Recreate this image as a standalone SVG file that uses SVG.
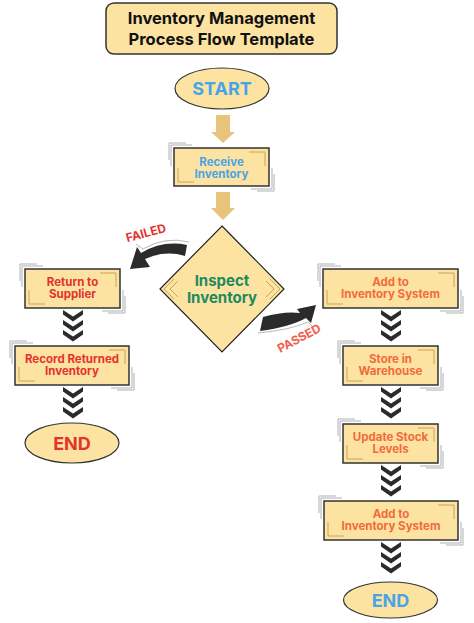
<svg xmlns="http://www.w3.org/2000/svg" width="474" height="623" viewBox="0 0 474 623">
<style>
text{font-family:Inter,"Liberation Sans",Arial,sans-serif;font-weight:700;text-anchor:middle}
.box{fill:#fce3a2;stroke:#333;stroke-width:1.5}
.ell{fill:#fce3a2;stroke:#333;stroke-width:1.2}
.dia{fill:#fce3a2;stroke:#222;stroke-width:1.2}
.gray{fill:none;stroke:#b0b0b0;stroke-width:1}
.tan{fill:none;stroke:#c8a458;stroke-width:1}
.t12{font-size:11.5px}
.blue{fill:#4aa3e6}
.red{fill:#e5322d}
.orange{fill:#f26b3a}
.salmon{fill:#f2604f}
.green{fill:#1d8a60}
.tanarrow{fill:#e7c37c}
.black{fill:#2b2b2b}
.shadow{fill:none;stroke:#b8b8b8;stroke-width:1}
</style>
<defs>
<path id="chev1" d="M-10,0 L0,6.5 L10,0 L10,4.5 L0,11.5 L-10,4.5 Z"/>
<g id="chev3">
<use href="#chev1" y="0"/>
<use href="#chev1" y="10"/>
<use href="#chev1" y="20"/>
</g>
</defs>

<g id="title">
<rect x="106" y="3" width="231" height="51" rx="8" class="box"/>
<text x="221.5" y="24" font-size="16.5" fill="#111">Inventory Management</text>
<text x="221.5" y="44.5" font-size="16.5" fill="#111">Process Flow Template</text>
</g>

<g id="start">
<ellipse cx="222" cy="88.5" rx="47" ry="20.5" class="ell"/>
<text x="222" y="94.5" font-size="18" class="blue">START</text>
</g>

<g id="receive">
<path class="gray" d="M171,166 V145 H192 M169,160 V143 H186"/>
<path class="gray" d="M272,168 V189 H251 M274,174 V191 H257"/>
<rect x="174" y="148" width="95" height="38" class="box"/>
<path class="tan" d="M249,152 H265 V166 M178,168 V182 H194"/>
<text x="221.5" y="165.5" class="t12 blue">Receive</text>
<text x="221.5" y="178" class="t12 blue">Inventory</text>
</g>

<g id="inspect">
<polygon points="222,226 284,289 222,352 160,289" class="dia"/>
<path class="tan" d="M174,279 L164,289 L174,299 M178,281 L170,289 L178,297"/>
<path class="tan" d="M270,279 L280,289 L270,299 M266,281 L274,289 L266,297"/>
<text x="222" y="285.5" font-size="15" class="green">Inspect</text>
<text x="222" y="303" font-size="15" class="green">Inventory</text>
</g>

<g id="return">
<path class="gray" d="M22,287 V266 H43 M20,281 V264 H37"/>
<path class="gray" d="M123,290 V311 H102 M125,296 V313 H108"/>
<rect x="25" y="269" width="95" height="39" class="box"/>
<path class="tan" d="M100,273 H116 V287 M29,290 V304 H45"/>
<text x="72.5" y="285.5" class="t12 red">Return to</text>
<text x="72.5" y="298" class="t12 red">Supplier</text>
</g>

<g id="record">
<path class="gray" d="M12,364 V343 H33 M10,358 V341 H27"/>
<path class="gray" d="M132,367 V388 H111 M134,373 V390 H117"/>
<rect x="15" y="346" width="114" height="39" class="box"/>
<path class="tan" d="M109,350 H125 V364 M19,367 V381 H35"/>
<text x="72" y="362.5" class="t12 red">Record Returned</text>
<text x="72" y="375" class="t12 red">Inventory</text>
</g>

<g id="end-left">
<ellipse cx="72" cy="443" rx="47" ry="20" class="ell"/>
<text x="72" y="449.5" font-size="18" class="red">END</text>
</g>

<g id="add1">
<path class="gray" d="M320,287 V266 H341 M318,281 V264 H335"/>
<path class="gray" d="M461,290 V311 H440 M463,296 V313 H446"/>
<rect x="323" y="269" width="135" height="39" class="box"/>
<path class="tan" d="M438,273 H454 V287 M327,290 V304 H343"/>
<text x="390.5" y="285.5" class="t12 orange">Add to</text>
<text x="390.5" y="298" class="t12 orange">Inventory System</text>
</g>

<g id="store">
<path class="gray" d="M340,364 V343 H361 M338,358 V341 H355"/>
<path class="gray" d="M441,367 V388 H420 M443,373 V390 H426"/>
<rect x="343" y="346" width="95" height="39" class="box"/>
<path class="tan" d="M418,350 H434 V364 M347,367 V381 H363"/>
<text x="390.5" y="362.5" class="t12 orange">Store in</text>
<text x="390.5" y="375" class="t12 orange">Warehouse</text>
</g>

<g id="update">
<path class="gray" d="M340,442 V421 H361 M338,436 V419 H355"/>
<path class="gray" d="M441,445 V466 H420 M443,451 V468 H426"/>
<rect x="343" y="424" width="95" height="39" class="box"/>
<path class="tan" d="M418,428 H434 V442 M347,445 V459 H363"/>
<text x="390.5" y="440.5" class="t12 orange">Update Stock</text>
<text x="390.5" y="453" class="t12 orange">Levels</text>
</g>

<g id="add2">
<path class="gray" d="M321,519 V498 H342 M319,513 V496 H336"/>
<path class="gray" d="M461,522 V543 H440 M463,528 V545 H446"/>
<rect x="324" y="501" width="134" height="39" class="box"/>
<path class="tan" d="M438,505 H454 V519 M328,522 V536 H344"/>
<text x="391" y="517.5" class="t12 orange">Add to</text>
<text x="391" y="530" class="t12 orange">Inventory System</text>
</g>

<g id="end-right">
<ellipse cx="390.5" cy="600" rx="47" ry="18" class="ell"/>
<text x="390.5" y="606.5" font-size="18" class="blue">END</text>
</g>

<g id="connectors">
<path class="tanarrow" d="M216,115 H230 V132 H235 L223,143 L211,132 H216 Z"/>
<path class="tanarrow" d="M216,192 H230 V208 H235 L223,220 L211,208 H216 Z"/>
<path class="shadow" d="M189,242 Q165,236 143,249 L136,244"/>
<path class="black" d="M187,245 Q163,240 141,253 L137,247 L130,269 L150,267 L145,259 Q165,250 185,256 Z"/>
<text x="147" y="237" font-size="12" class="red" transform="rotate(-15 147 237)">FAILED</text>
<path class="shadow" d="M258,333 Q290,330 308,322 L312,326"/>
<path class="black" d="M263,317 Q284,311 300,313 L297,309 L316,305 L311,323 L306,318 Q290,327 260,331 Z"/>
<text x="301" y="342" font-size="12" class="salmon" transform="rotate(-28 301 342)">PASSED</text>
<use href="#chev3" x="73" y="310" class="black"/>
<use href="#chev3" x="73" y="387" class="black"/>
<use href="#chev3" x="391" y="310" class="black"/>
<use href="#chev3" x="391" y="387" class="black"/>
<use href="#chev3" x="391" y="465" class="black"/>
<use href="#chev3" x="391" y="542" class="black"/>
</g>
</svg>
